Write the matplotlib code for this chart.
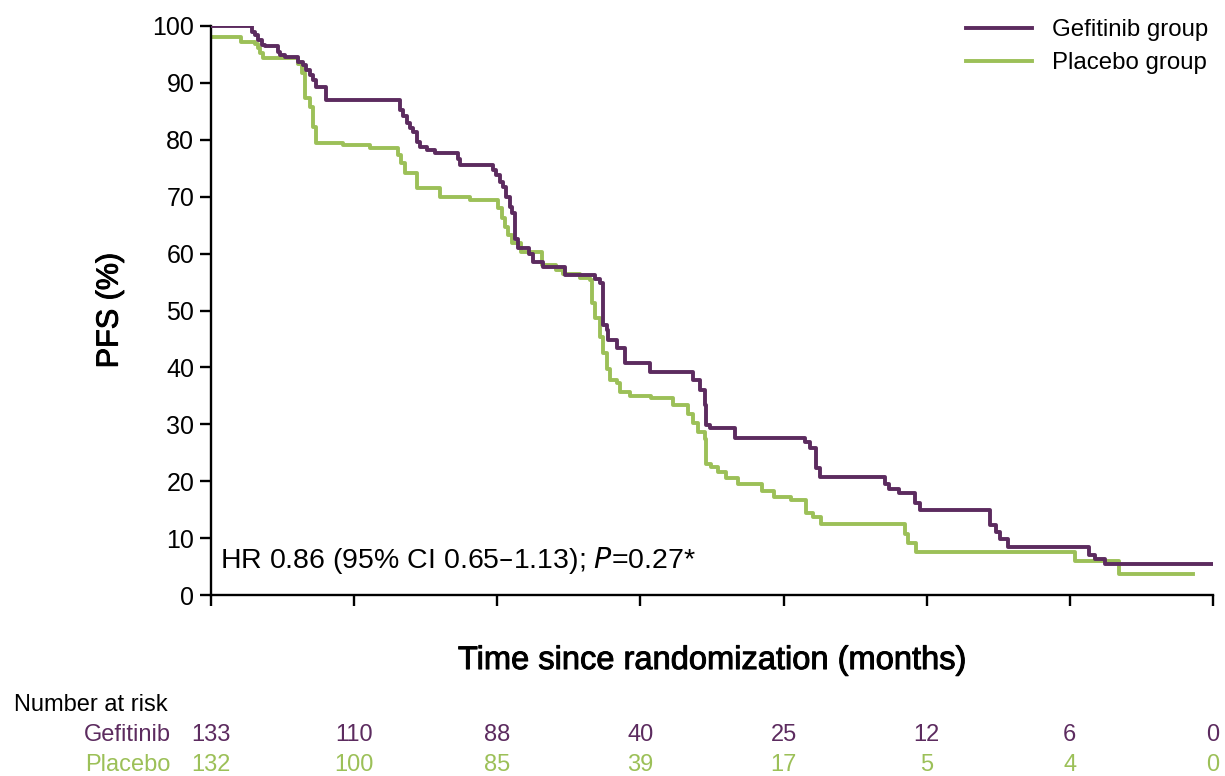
import matplotlib
matplotlib.use('Agg')
import matplotlib.pyplot as plt
import matplotlib.patheffects as pe

plt.rcParams['font.family'] = ['Liberation Sans', 'DejaVu Sans']

PURPLE = '#5c2b5f'
GREEN = '#9cc058'

# Kaplan-Meier step data: time (months) and PFS (%)
gef_t = [0, 0.85, 0.92, 0.99, 1.06, 1.13, 1.41, 1.45, 1.55, 1.83, 1.93, 2.0, 2.07,
         2.14, 2.21, 2.42, 3.96, 4.03, 4.10, 4.17, 4.24, 4.31, 4.38, 4.52, 4.69,
         5.18, 5.22, 5.91, 5.98, 6.05, 6.12, 6.19, 6.26, 6.30, 6.37, 6.44, 6.66,
         6.75, 6.95, 7.42, 8.04, 8.15, 8.21, 8.29, 8.32, 8.50, 8.67, 9.20, 10.10,
         10.24, 10.35, 10.38, 10.45, 10.98, 12.44, 12.55, 12.69, 12.76, 14.12,
         14.22, 14.43, 14.75, 14.85, 16.32, 16.46, 16.53, 16.70, 18.41, 18.52,
         18.73, 21.0]
gef_s = [100, 99.0, 98.4, 97.5, 96.7, 96.4, 95.5, 94.9, 94.6, 93.7, 93.1, 92.3, 91.4,
         90.5, 89.3, 87.0, 85.2, 84.1, 82.9, 82.0, 81.4, 79.7, 78.8, 78.2, 77.6,
         76.7, 75.5, 74.7, 73.8, 72.6, 71.7, 70.0, 68.2, 67.1, 62.6, 61.0, 60.0,
         58.5, 57.7, 56.2, 55.5, 54.8, 47.5, 46.6, 44.8, 43.4, 40.8, 39.2, 37.8,
         36.0, 33.4, 29.9, 29.3, 27.6, 26.9, 25.8, 22.3, 20.8, 19.6,
         18.7, 17.9, 16.1, 15.0, 12.3, 11.1, 9.8, 8.4, 7.0, 6.4,
         5.4, 5.4]

pbo_t = [0, 0.64, 0.92, 0.99, 1.03, 1.10, 1.83, 1.90, 1.97, 2.07, 2.14, 2.21, 2.77,
         3.33, 3.92, 3.99, 4.06, 4.31, 4.80, 5.43, 6.02, 6.09, 6.16, 6.23, 6.30,
         6.50, 6.93, 7.24, 7.38, 7.73, 7.94, 7.98, 8.04, 8.15, 8.22, 8.29, 8.36,
         8.50, 8.57, 8.78, 9.23, 9.68, 10.0, 10.10, 10.21, 10.35, 10.38, 10.49,
         10.63, 10.80, 11.05, 11.54, 11.81, 12.16, 12.48, 12.62, 12.79, 14.54,
         14.61, 14.78, 18.10, 19.04, 20.58]
pbo_s = [98.1, 97.2, 96.8, 96.1, 95.3, 94.3, 93.4, 91.7, 87.3, 85.8, 82.3, 79.4, 79.0,
         78.5, 77.3, 75.9, 74.1, 71.5, 70.0, 69.4, 68.0, 66.3, 64.7, 63.3, 61.8,
         60.3, 58.0, 57.1, 56.5, 55.7, 55.4, 51.3, 48.6, 45.4, 42.5, 39.8, 37.8,
         37.2, 35.7, 35.0, 34.6, 33.4, 31.9, 30.2, 28.7, 27.5, 23.1, 22.5,
         21.7, 20.5, 19.6, 18.2, 17.3, 16.7, 14.4, 13.8, 12.4, 10.8,
         9.1, 7.5, 6.0, 3.7, 3.7]

risk_times = [0, 3, 6, 9, 12, 15, 18, 21]
gef_risk = [133, 110, 88, 40, 25, 12, 6, 0]
pbo_risk = [132, 100, 85, 39, 17, 5, 4, 0]

fig = plt.figure(figsize=(12.25, 7.76), dpi=100)
ax = fig.add_axes([0.1722, 0.2332, 0.818, 0.7333])

ax.step(gef_t, gef_s, where='post', color=PURPLE, lw=2.8, label='Gefitinib group', zorder=3)
ax.step(pbo_t, pbo_s, where='post', color=GREEN, lw=2.8, label='Placebo group', zorder=2)

ax.set_xlim(0, 21)
ax.set_ylim(0, 100)
ax.set_yticks(range(0, 101, 10))
ax.set_xticks(risk_times)
ax.set_xticklabels([])
ax.tick_params(axis='both', direction='out', length=8, width=1.7, labelsize=18, colors='black',
               pad=4)
for side in ['top', 'right']:
    ax.spines[side].set_visible(False)
for side in ['left', 'bottom']:
    ax.spines[side].set_linewidth(1.7)

# slightly heavier axis titles
heavy = [pe.withStroke(linewidth=0.7, foreground='black')]
ax.set_ylabel('PFS (%)', fontsize=22, labelpad=20, path_effects=heavy)
ax.set_xlabel('Time since randomization (months)', fontsize=23.5, labelpad=24, path_effects=heavy)

ax.text(0.2, 6, 'HR 0.86 (95% CI 0.65\u20131.13); $\\it{P}$=0.27*', fontsize=20.5,
        va='center', ha='left')

leg = ax.legend(loc='upper right', bbox_to_anchor=(1.01, 1.037), frameon=False, fontsize=17.3,
                handlelength=2.75, handletextpad=0.85, labelspacing=0.45, borderaxespad=0.2)

# number at risk table
tr = ax.get_xaxis_transform()
ax.text(-4.13, -0.193, 'Number at risk', transform=tr, fontsize=17, ha='left', va='center',
        clip_on=False)
ax.text(-0.85, -0.246, 'Gefitinib', transform=tr, fontsize=17, ha='right', va='center',
        color=PURPLE, clip_on=False)
ax.text(-0.85, -0.299, 'Placebo', transform=tr, fontsize=17, ha='right', va='center',
        color=GREEN, clip_on=False)
for t, g, p in zip(risk_times, gef_risk, pbo_risk):
    ax.text(t, -0.246, str(g), transform=tr, fontsize=17, ha='center', va='center',
            color=PURPLE, clip_on=False)
    ax.text(t, -0.299, str(p), transform=tr, fontsize=17, ha='center', va='center',
            color=GREEN, clip_on=False)

fig.savefig('out.png', dpi=100)
